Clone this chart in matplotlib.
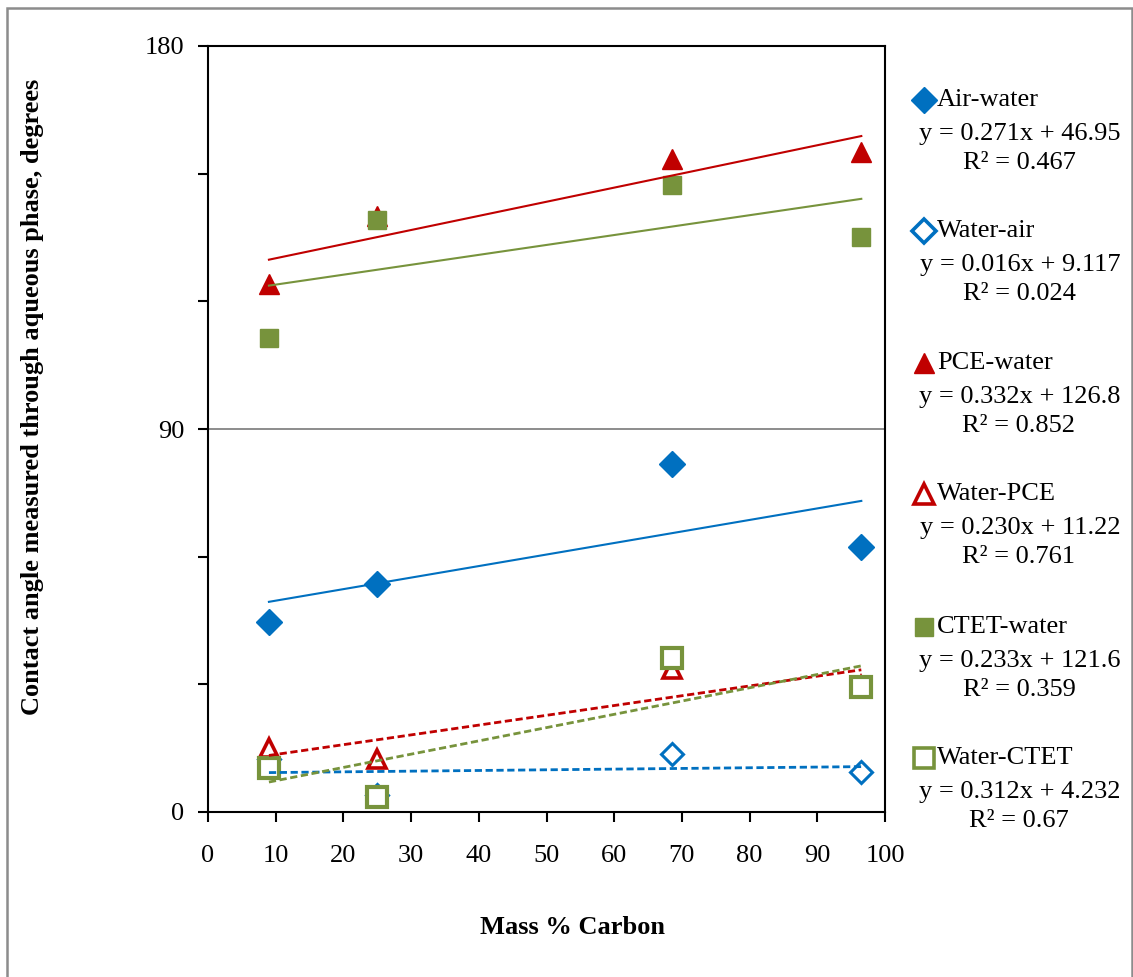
import matplotlib
matplotlib.use("Agg")
import matplotlib.pyplot as plt
from matplotlib.patches import Rectangle
import numpy as np

plt.rcParams['font.family'] = ['Liberation Serif', 'DejaVu Serif']

# ---- data ----
mass_carbon = [9.0, 25.0, 68.5, 96.5]
air_water = [44.6, 53.6, 81.8, 62.3]
water_air = [12.4, 4.0, 13.6, 9.5]
pce_water = [124.0, 140.0, 153.5, 155.0]
water_pce = [15.0, 12.4, 33.5, 29.5]
ctet_water = [111.4, 139.1, 147.3, 135.1]
water_ctet = [10.3, 3.5, 36.2, 29.4]

series_names = ["Air-water", "Water-air", "PCE-water", "Water-PCE", "CTET-water", "Water-CTET"]
slopes = [0.271, 0.016, 0.332, 0.230, 0.233, 0.312]
intercepts = [46.95, 9.117, 126.8, 11.22, 121.6, 4.232]
eq_labels = ["y = 0.271x + 46.95", "y = 0.016x + 9.117", "y = 0.332x + 126.8",
             "y = 0.230x + 11.22", "y = 0.233x + 121.6", "y = 0.312x + 4.232"]
r2_labels = ["R² = 0.467", "R² = 0.024", "R² = 0.852", "R² = 0.761", "R² = 0.359", "R² = 0.67"]
x_ticks = [0, 10, 20, 30, 40, 50, 60, 70, 80, 90, 100]
y_ticks = [0, 90, 180]
y_minor = [30, 60, 120, 150]

BLUE = "#0070C0"
RED = "#C00000"
GREEN = "#77933C"

values = [air_water, water_air, pce_water, water_pce, ctet_water, water_ctet]
colors = [BLUE, BLUE, RED, RED, GREEN, GREEN]
markers = ['D', 'D', '^', '^', 's', 's']
filled = [True, False, True, False, True, False]
msizes = [13, 11, 15, 13, 13, 14]
mew_open = [2.2, 2.2, 2.6, 2.6, 3.0, 3.0]

W, H = 1133, 977
fig = plt.figure(figsize=(W / 100, H / 100), dpi=100)

# outer gray border
fig.patches.append(Rectangle((7 / W, -0.01), (1131.5 - 7) / W, (977 - 8) / H + 0.01,
                             transform=fig.transFigure, fill=False,
                             edgecolor="#8c8c8c", linewidth=1.8))

ax = fig.add_axes([208 / W, (977 - 812) / H, (885 - 208) / W, (812 - 46) / H])
ax.set_xlim(0, 100)
ax.set_ylim(0, 180)
ax.axhline(90, color="#8c8c8c", linewidth=1.4, zorder=1)

for vals, c, m, f, ms, mw in zip(values, colors, markers, filled, msizes, mew_open):
    xs = np.array(mass_carbon)
    if f:
        ax.plot(xs, vals, linestyle='none', marker=m, markersize=ms, color=c,
                markeredgecolor=c, zorder=3)
    else:
        ax.plot(xs, vals, linestyle='none', marker=m, markersize=ms, markerfacecolor='white',
                markeredgecolor=c, markeredgewidth=mw, zorder=3)
for vals, c, f, a, b in zip(values, colors, filled, slopes, intercepts):
    xl = np.array([min(mass_carbon), max(mass_carbon)])
    yl = a * xl + b
    if f:
        ax.plot(xl, yl, color=c, linewidth=1.5, linestyle='-', zorder=4)
    else:
        ax.plot(xl, yl, color=c, linewidth=2.0, linestyle=(0, (2.6, 1.3)), zorder=4)

ax.set_xticks(x_ticks)
ax.set_yticks(y_ticks)
ax.set_yticks(y_minor, minor=True)
ax.tick_params(axis='both', which='major', direction='out', length=7, width=1.5,
               labelsize=19)
ax.tick_params(axis='y', which='minor', direction='out', length=7, width=1.5)
ax.tick_params(axis='x', pad=17)
ax.tick_params(axis='y', pad=10)
for s in ax.spines.values():
    s.set_linewidth(1.5)
    s.set_color('black')

fig.text(572 / W, 1 - 928 / H, "Mass % Carbon", fontsize=19, fontweight='bold',
         ha='center', va='center')
fig.text(33 / W, 1 - 397 / H, "Contact angle measured through aqueous phase, degrees",
         rotation=90, fontsize=19, fontweight='bold', ha='center', va='center')

# legend with trendline equations
lax = fig.add_axes([0, 0, 1, 1])
lax.set_xlim(0, W)
lax.set_ylim(H, 0)
lax.axis('off')
entry_y = [100, 231, 363, 494, 627, 758]
lm_sizes = [13, 12, 15, 14, 13, 14]
for i, (name, eq, r2) in enumerate(zip(series_names, eq_labels, r2_labels)):
    y0 = entry_y[i]
    if filled[i]:
        lax.plot([924], [y0], marker=markers[i], markersize=lm_sizes[i], color=colors[i],
                 linestyle='none')
    else:
        lax.plot([924], [y0], marker=markers[i], markersize=lm_sizes[i],
                 markerfacecolor='white', markeredgecolor=colors[i],
                 markeredgewidth=2.6, linestyle='none')
    lax.text(937, y0, name, fontsize=19, ha='left', va='center')
    lax.text(1020, y0 + 34, eq, fontsize=19, ha='center', va='center')
    lax.text(1019, y0 + 63, r2, fontsize=19, ha='center', va='center')

fig.savefig("out.png", dpi=100)
